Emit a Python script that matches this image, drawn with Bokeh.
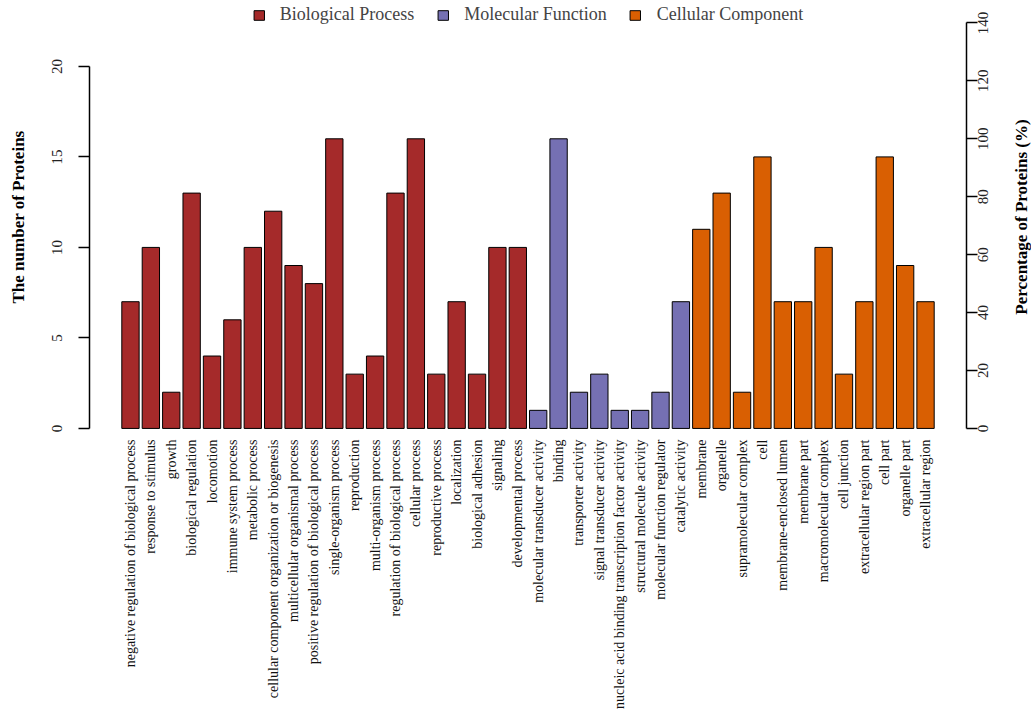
import math
from bokeh.plotting import figure
from bokeh.layouts import row
from bokeh.models import (ColumnDataSource, LinearAxis, Range1d, FixedTicker,
                          Legend, LegendItem, CustomJSTickFormatter)
from bokeh.embed import file_html
from bokeh.resources import INLINE

# ---- data ----
bp_terms = ["negative regulation of biological process", "response to stimulus", "growth",
            "biological regulation", "locomotion", "immune system process", "metabolic process",
            "cellular component organization or biogenesis", "multicellular organismal process",
            "positive regulation of biological process", "single-organism process", "reproduction",
            "multi-organism process", "regulation of biological process", "cellular process",
            "reproductive process", "localization", "biological adhesion", "signaling",
            "developmental process"]
bp_counts = [7, 10, 2, 13, 4, 6, 10, 12, 9, 8, 16, 3, 4, 13, 16, 3, 7, 3, 10, 10]

mf_terms = ["molecular transducer activity", "binding", "transporter activity",
            "signal transducer activity", "nucleic acid binding transcription factor activity",
            "structural molecule activity", "molecular function regulator", "catalytic activity"]
mf_counts = [1, 16, 2, 3, 1, 1, 2, 7]

cc_terms = ["membrane", "organelle", "supramolecular complex", "cell", "membrane-enclosed lumen",
            "membrane part", "macromolecular complex", "cell junction", "extracellular region part",
            "cell part", "organelle part", "extracellular region"]
cc_counts = [11, 13, 2, 15, 7, 7, 10, 3, 7, 15, 9, 7]

group_names = ["Biological Process", "Molecular Function", "Cellular Component"]
group_colors = ["#A52A2A", "#7570B3", "#D95F02"]

count_ticks = [0, 5, 10, 15, 20]
pct_ticks = [0, 20, 40, 60, 80, 100, 120, 140]
pct_base = 16  # number of proteins corresponding to 100 %
left_title = "The number of Proteins"
right_title = "Percentage of Proteins (%)"

# ---- layout ----
groups = [(bp_terms, bp_counts), (mf_terms, mf_counts), (cc_terms, cc_counts)]
all_terms = bp_terms + mf_terms + cc_terms
n = len(all_terms)
pad = 2.01
y_bot, y_top = -0.28, 23.64
FONT = "Liberation Serif"
FIG_H = 720
FRAME_H = 433
pct_scale = 100.0 / pct_base
px_per_pct = FRAME_H / ((y_top - y_bot) * pct_scale)

p = figure(width=1004, height=FIG_H, output_backend="svg", toolbar_location=None,
           x_range=Range1d(-pad, n - 1 + pad), y_range=Range1d(y_bot, y_top),
           min_border_left=89, min_border_right=38, min_border_top=0,
           min_border_bottom=FIG_H - FRAME_H)
p.extra_y_ranges = {"pct": Range1d(y_bot * pct_scale, y_top * pct_scale)}
p.xgrid.visible = False
p.ygrid.visible = False
p.outline_line_color = None
p.background_fill_color = "white"
p.border_fill_color = "white"

items = []
start = 0
for (terms, counts), name, color in zip(groups, group_names, group_colors):
    xs = list(range(start, start + len(terms)))
    src = ColumnDataSource(dict(x=xs, top=counts, term=terms))
    r = p.vbar(x="x", top="top", bottom=0, width=0.85, source=src,
               fill_color=color, line_color="black", line_width=1)
    items.append(LegendItem(label=name, renderers=[r]))
    start += len(terms)

# x axis (category labels)
xa = p.xaxis[0]
xa.ticker = FixedTicker(ticks=list(range(n)))
xa.major_label_overrides = {i: t for i, t in enumerate(all_terms)}
xa.axis_line_color = None
xa.major_tick_line_color = None
xa.minor_tick_line_color = None
xa.major_tick_out = 0
xa.major_tick_in = 0
xa.major_label_orientation = math.pi / 2
xa.major_label_standoff = 6
xa.major_label_text_font = FONT
xa.major_label_text_font_size = "14px"
xa.major_label_text_color = "#111111"

# left axis
ya = p.yaxis[0]
ya.bounds = (0, 20)
ya.ticker = FixedTicker(ticks=count_ticks)
ya.major_tick_out = 11
ya.major_tick_in = 0
ya.minor_tick_line_color = None
ya.axis_line_width = 1.5
ya.major_tick_line_width = 1.5
ya.axis_line_color = "black"
ya.major_tick_line_color = "black"
ya.major_label_orientation = "vertical"
ya.major_label_standoff = 16
ya.major_label_text_font = FONT
ya.major_label_text_font_size = "15px"
ya.major_label_text_color = "#222222"
ya.axis_label = left_title
ya.axis_label_text_font = FONT
ya.axis_label_text_font_style = "bold"
ya.axis_label_text_font_size = "17px"
ya.axis_label_standoff = 22
ya.axis_label_text_color = "black"

# right axis: line + ticks
ra = LinearAxis(y_range_name="pct", ticker=FixedTicker(ticks=pct_ticks), bounds=(0, 140))
ra.major_tick_out = 11
ra.major_tick_in = 0
ra.minor_tick_line_color = None
ra.axis_line_width = 1.5
ra.major_tick_line_width = 1.5
ra.formatter = CustomJSTickFormatter(code="return '';")
ra.major_label_text_font_size = "0px"
ra.major_label_standoff = 0
p.add_layout(ra, "right")

# right axis: tick labels, read bottom-to-top, centred on their ticks
LABEL_PX = 15
half_len = [len(str(t)) * 0.5 * LABEL_PX / 2 / px_per_pct for t in pct_ticks]
ra_lab = LinearAxis(y_range_name="pct",
                    ticker=FixedTicker(ticks=[t - h for t, h in zip(pct_ticks, half_len)]),
                    formatter=CustomJSTickFormatter(code="return (Math.round(tick / 20) * 20).toString();"))
ra_lab.axis_line_color = None
ra_lab.major_tick_line_color = None
ra_lab.minor_tick_line_color = None
ra_lab.major_tick_out = 0
ra_lab.major_tick_in = 0
ra_lab.major_label_orientation = math.pi / 2
ra_lab.major_label_standoff = 6
ra_lab.major_label_text_font = FONT
ra_lab.major_label_text_font_size = f"{LABEL_PX}px"
ra_lab.major_label_text_color = "#222222"
p.add_layout(ra_lab, "right")

legend = Legend(items=items, orientation="horizontal", location="top_center",
                border_line_color=None, background_fill_alpha=0, margin=4, padding=0,
                spacing=22, label_standoff=15, glyph_width=13, glyph_height=12,
                label_text_font=FONT, label_text_font_size="18px", label_height=14)
p.add_layout(legend)

# right-hand title strip: an empty axis whose label reads bottom-to-top,
# centred on a frame aligned with the main plot's frame
side = figure(width=27, height=FIG_H, output_backend="svg", toolbar_location=None,
              x_range=Range1d(0, 1), y_range=Range1d(0, 1),
              x_axis_location=None, y_axis_location="left",
              min_border_left=26, min_border_right=0, min_border_top=0,
              min_border_bottom=FIG_H - FRAME_H)
side.xgrid.visible = False
side.ygrid.visible = False
side.outline_line_color = None
sa = side.yaxis[0]
sa.ticker = FixedTicker(ticks=[])
sa.axis_line_color = None
sa.major_tick_line_color = None
sa.minor_tick_line_color = None
sa.major_tick_out = 0
sa.major_tick_in = 0
sa.axis_label = right_title
sa.axis_label_text_font = FONT
sa.axis_label_text_font_style = "bold"
sa.axis_label_text_font_size = "17px"
sa.axis_label_standoff = 0
sa.axis_label_text_color = "black"

layout = row(p, side, spacing=0)
open("out.html", "w").write(file_html(layout, INLINE))
